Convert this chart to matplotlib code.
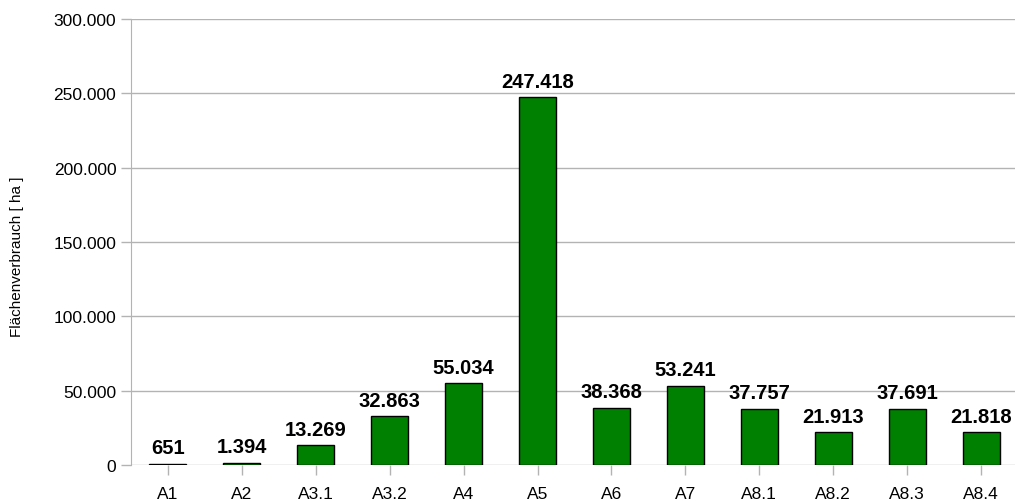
import matplotlib.pyplot as plt
from matplotlib.ticker import FuncFormatter

plt.rcParams['font.family'] = ['Liberation Sans', 'DejaVu Sans']

# Flächenverbrauch je Kategorie in ha
kategorien = ["A1", "A2", "A3.1", "A3.2", "A4", "A5", "A6", "A7",
              "A8.1", "A8.2", "A8.3", "A8.4"]
flaeche = [651, 1394, 13269, 32863, 55034, 247418, 38368, 53241,
           37757, 21913, 37691, 21818]
y_ticks = [0, 50000, 100000, 150000, 200000, 250000, 300000]


def de_format(v, pos=None):
    # deutsche Tausendertrennung mit Punkt
    return f"{int(round(v)):,}".replace(",", ".")


fig = plt.figure(figsize=(10.15, 5.02), dpi=100)
ax = fig.add_axes([0.129, 0.072, 0.874, 0.888])

x = range(len(kategorien))
bars = ax.bar(x, flaeche, width=0.5, color="#008000", edgecolor="black",
              linewidth=1, zorder=3)

for b, v in zip(bars, flaeche):
    ax.annotate(de_format(v), (b.get_x() + b.get_width() / 2, v),
                xytext=(0, 7.5), textcoords="offset points",
                ha="center", va="baseline", fontsize=14.5, fontweight="bold")

ax.set_xlim(-0.5, len(kategorien) - 0.5)
ax.set_ylim(0, 300000)
ax.set_yticks(y_ticks)
ax.yaxis.set_major_formatter(FuncFormatter(de_format))
ax.set_xticks(list(x))
ax.set_xticklabels(kategorien)

ax.grid(axis="y", color="#b3b3b3", linewidth=1, zorder=0)
for s in ["top", "right", "bottom"]:
    ax.spines[s].set_visible(False)
ax.spines["left"].set_color("#b3b3b3")
ax.tick_params(axis="both", colors="#b3b3b3", labelcolor="black",
               labelsize=12.5, length=7, width=1)
ax.tick_params(axis="x", pad=8)

ax.set_ylabel("Flächenverbrauch [ ha ]", fontsize=11)
ax.yaxis.set_label_coords(-0.12, 0.47)

fig.savefig("out.png", dpi=100)
